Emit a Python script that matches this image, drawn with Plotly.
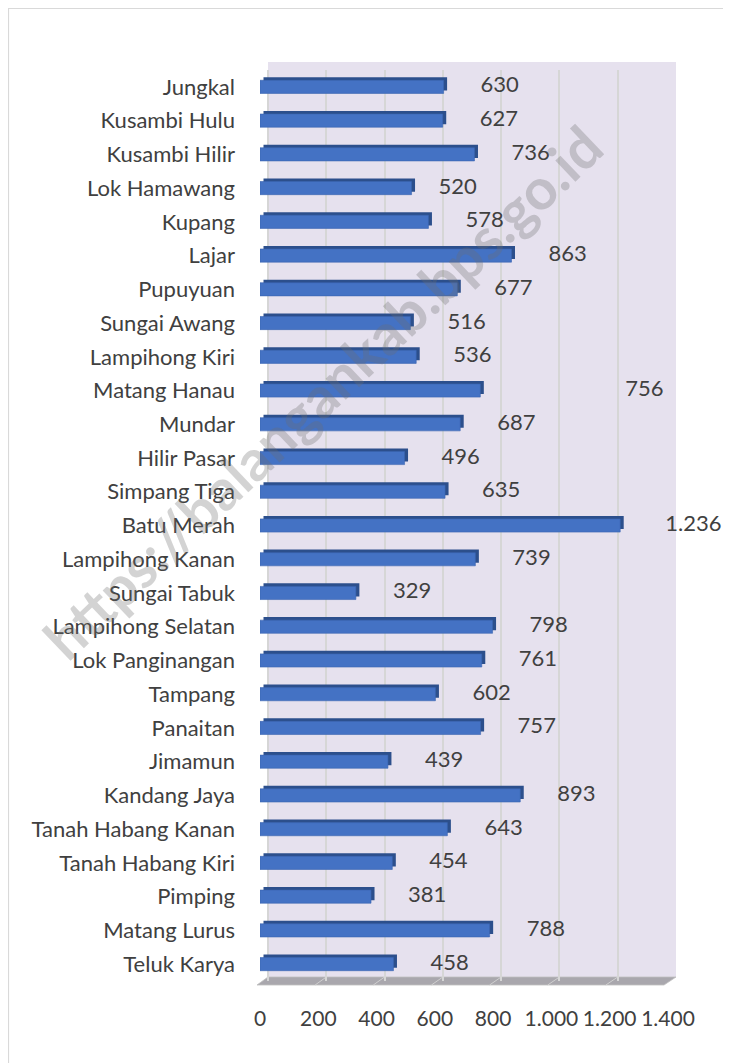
import plotly.graph_objects as go

categories = ["Jungkal", "Kusambi Hulu", "Kusambi Hilir", "Lok Hamawang", "Kupang", "Lajar",
              "Pupuyuan", "Sungai Awang", "Lampihong Kiri", "Matang Hanau", "Mundar",
              "Hilir Pasar", "Simpang Tiga", "Batu Merah", "Lampihong Kanan", "Sungai Tabuk",
              "Lampihong Selatan", "Lok Panginangan", "Tampang", "Panaitan", "Jimamun",
              "Kandang Jaya", "Tanah Habang Kanan", "Tanah Habang Kiri", "Pimping",
              "Matang Lurus", "Teluk Karya"]
values = [630, 627, 736, 520, 578, 863, 677, 516, 536, 756, 687, 496, 635, 1236, 739, 329,
          798, 761, 602, 757, 439, 893, 643, 454, 381, 788, 458]
tick_values = [0, 200, 400, 600, 800, 1000, 1200, 1400]
tick_labels = ["0", "200", "400", "600", "800", "1.000", "1.200", "1.400"]
watermark = "https://balangankab.bps.go.id"

# page body adds an 8px margin; work in reference-screen pixels and subtract it
OFF = 8
W, H = 731 - OFF, 1063 - OFF
R_PX0, R_PX1, R_PY0, R_PY1 = 260, 676, 70, 981   # plot area in reference pixels
PX0, PX1, PY0, PY1 = R_PX0 - OFF, R_PX1 - OFF, R_PY0 - OFF, R_PY1 - OFF
SCALE = 408 / 1400                                # px per unit


def px(x, y):
    """reference-screen pixel -> paper coords"""
    x -= OFF
    y -= OFF
    return (x - PX0) / (PX1 - PX0), (PY1 - y) / (PY1 - PY0)


def fmt(v):
    return f"{v:,}".replace(",", ".")


FONT = "Lato, 'Open Sans', sans-serif"
TXT = "#404040"
FS = 22

# label placement (px gap after bar end, with a couple of Excel-like nudges)
gap_px = 37
label_extra_px = {"Matang Hanau": 108, "Batu Merah": 8, "Lok Hamawang": -10}
label_x = [v + (gap_px + label_extra_px.get(c, 0)) / SCALE for c, v in zip(categories, values)]

fig = go.Figure()

depth_units = 3.5 / SCALE
# dark depth face (behind, shifted up-right)
fig.add_trace(go.Bar(
    y=categories, x=values, base=depth_units, orientation="h",
    width=0.39, offset=-0.195 - 0.09,
    marker=dict(color="#2C4F8C", line=dict(width=0)),
    hoverinfo="skip", showlegend=False))
# front face
fig.add_trace(go.Bar(
    y=categories, x=values, orientation="h",
    width=0.39, offset=-0.195,
    marker=dict(color="#4472C4", line=dict(color="#3A64B0", width=0.6)),
    showlegend=False))
# value labels
fig.add_trace(go.Scatter(
    y=categories, x=label_x, mode="text",
    text=[fmt(v) for v in values], textposition="middle right",
    textfont=dict(family=FONT, size=FS, color=TXT),
    hoverinfo="skip", showlegend=False, cliponaxis=False))

shapes = []
# back wall
wx0, wy0 = px(268, 62)
wx1, wy1 = px(676, 977)
shapes.append(dict(type="rect", xref="paper", yref="paper", x0=wx0, y0=wy1, x1=wx1, y1=wy0,
                   fillcolor="#E6E1EE", line=dict(width=0), layer="below"))
# floor
pts = [px(257, 985), px(664, 985), px(676, 977), px(268, 977)]
path = "M " + " L ".join(f"{a},{b}" for a, b in pts) + " Z"
shapes.append(dict(type="path", xref="paper", yref="paper", path=path,
                   fillcolor="#A9A7AD", line=dict(color="#BFBFBF", width=0.8), layer="below"))
# floor grid lines
for t in tick_values[1:-1]:
    xt = 268 + t * SCALE
    xb = 257 + t * (664 - 257) / 1400
    a = px(xt, 977)
    b = px(xb, 985)
    shapes.append(dict(type="line", xref="paper", yref="paper", x0=a[0], y0=a[1], x1=b[0], y1=b[1],
                       line=dict(color="#D0D0D0", width=1), layer="below"))
# outer chart border
b0 = px(8.5, 8.5)
b1 = px(745, 1080)
shapes.append(dict(type="rect", xref="paper", yref="paper", x0=b0[0], y0=b1[1], x1=b1[0], y1=b0[1],
                   fillcolor="rgba(0,0,0,0)", line=dict(color="#D9D9D9", width=1.2), layer="below"))

wm = px(322, 392)
annotations = [dict(xref="paper", yref="paper", x=wm[0], y=wm[1], xanchor="center", yanchor="middle",
                    text=f"<b>{watermark}</b>", showarrow=False, textangle=-43.5,
                    font=dict(family=FONT, size=57, color="rgba(110,110,110,0.30)"))]

n = len(categories)
fig.update_layout(
    width=W, height=H,
    margin=dict(l=PX0, r=W - PX1, t=PY0, b=H - PY1, autoexpand=False),
    paper_bgcolor="white", plot_bgcolor="rgba(0,0,0,0)",
    barmode="overlay",
    font=dict(family=FONT, size=FS, color=TXT),
    xaxis=dict(range=[0, (PX1 - PX0) / SCALE], tickvals=tick_values, ticktext=tick_labels,
               tickangle=0, showgrid=False, zeroline=False, showline=False, ticks="",
               ticklabelstandoff=23, tickfont=dict(size=21, color=TXT), fixedrange=True),
    xaxis2=dict(overlaying="x", range=[-(268 - R_PX0) / SCALE, 1400], tickvals=tick_values,
                showticklabels=False, showgrid=True, gridcolor="#D6D6D6", gridwidth=1.6,
                zeroline=False, showline=False, ticks=""),
    yaxis=dict(categoryorder="array", categoryarray=categories, range=[n - 0.5, -0.5],
               autorange=False, showgrid=False, zeroline=False, showline=False, ticks="",
               ticklabelstandoff=24, tickfont=dict(size=FS, color=TXT)),
    shapes=shapes, annotations=annotations,
    showlegend=False,
)
# dummy trace to activate xaxis2 grid
fig.add_trace(go.Scatter(x=[None], y=[None], xaxis="x2", showlegend=False, hoverinfo="skip"))

fig.write_html("out.html")
